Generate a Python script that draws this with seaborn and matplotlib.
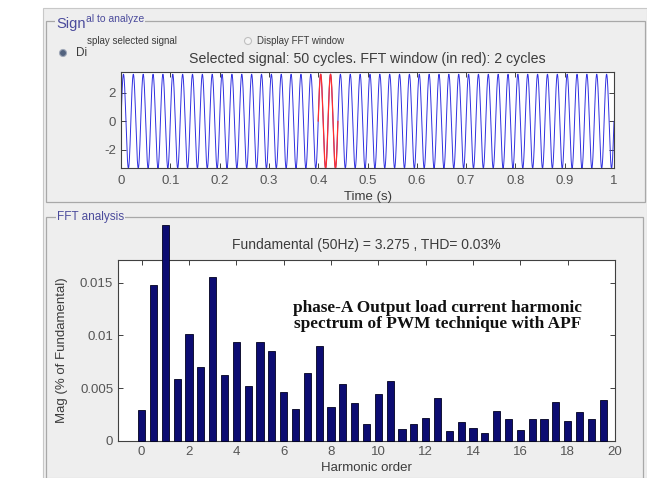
import numpy as np
import pandas as pd
import matplotlib
matplotlib.use("Agg")
import matplotlib.pyplot as plt
from matplotlib.patches import Rectangle, Ellipse
import seaborn as sns

# ---------------- data ----------------
harmonic_order = [0, 0.5, 1, 1.5, 2, 2.5, 3, 3.5, 4, 4.5, 5, 5.5, 6, 6.5, 7, 7.5,
                  8, 8.5, 9, 9.5, 10, 10.5, 11, 11.5, 12, 12.5, 13, 13.5, 14, 14.5,
                  15, 15.5, 16, 16.5, 17, 17.5, 18, 18.5, 19, 19.5]
mag_pct_fund = [0.0029, 0.0148, 0.0205, 0.0059, 0.0101, 0.0070, 0.0155, 0.0062,
                0.0094, 0.0052, 0.0094, 0.0085, 0.0046, 0.0030, 0.0064, 0.0090,
                0.0032, 0.0054, 0.0036, 0.0016, 0.0044, 0.0057, 0.0011, 0.0016,
                0.0022, 0.0041, 0.0009, 0.0018, 0.0012, 0.0007, 0.0028, 0.0021,
                0.0010, 0.0021, 0.0021, 0.0037, 0.0019, 0.0027, 0.0021, 0.0039]
fft_xticks = [0, 2, 4, 6, 8, 10, 12, 14, 16, 18, 20]
fft_yticks = [0, 0.005, 0.01, 0.015]
fft_ytick_labels = ["0", "0.005", "0.01", "0.015"]

# selected signal (as stated in the chart: 50 Hz fundamental, 3.275 peak, 1 s, 50 cycles)
fund_freq_hz = 50
fund_amp = 3.275
signal_duration_s = 1.0
fft_window_start_s = 0.40
fft_window_cycles = 2
time_xticks = [0, 0.1, 0.2, 0.3, 0.4, 0.5, 0.6, 0.7, 0.8, 0.9, 1]
time_xtick_labels = ["0", "0.1", "0.2", "0.3", "0.4", "0.5", "0.6", "0.7", "0.8", "0.9", "1"]
time_yticks = [-2, 0, 2]

t = np.linspace(0, signal_duration_s, 20001)
sig = fund_amp * np.sin(2 * np.pi * fund_freq_hz * t)
win_end = fft_window_start_s + fft_window_cycles / fund_freq_hz
in_win = (t >= fft_window_start_s) & (t <= win_end)
sig_df = pd.DataFrame({"t": t, "v": sig})
win_df = sig_df[in_win]
fft_df = pd.DataFrame({"order": harmonic_order, "mag": mag_pct_fund})

# ---------------- style ----------------
sns.set_style("white")
plt.rcParams["font.family"] = ["Liberation Sans", "DejaVu Sans"]
plt.rcParams["axes.unicode_minus"] = False

W, H = 647, 478
fig = plt.figure(figsize=(W / 100, H / 100), dpi=100)
fig.patch.set_facecolor("white")

def fx(x):
    return x / W

def fy(y):
    return 1 - y / H

GREY = "#eeeeee"
TXT = "#3c3c3c"
PANEL_TXT = "#4b4b9c"

# GUI background and panel frames
fig.patches.append(Rectangle((fx(43), 0), fx(647) - fx(43), fy(8), transform=fig.transFigure,
                             facecolor=GREY, edgecolor="#c8c8c8", lw=0.8, zorder=-5))
fig.patches.append(Rectangle((fx(46), fy(202)), fx(645) - fx(46), fy(21) - fy(202),
                             transform=fig.transFigure, facecolor="none",
                             edgecolor="#a8a8a8", lw=0.9, zorder=-4))
fig.patches.append(Rectangle((fx(46), fy(482)), fx(643) - fx(46), fy(217) - fy(482),
                             transform=fig.transFigure, facecolor="none",
                             edgecolor="#a8a8a8", lw=0.9, zorder=-4))

# panel labels
fig.text(fx(56), fy(24), "Sign", color=PANEL_TXT, fontsize=10.5, va="center", ha="left",
         bbox=dict(facecolor=GREY, edgecolor="none", pad=0.5), zorder=-3)
fig.text(fx(86), fy(19), "al to analyze", color=PANEL_TXT, fontsize=7.5, va="center", ha="left",
         bbox=dict(facecolor=GREY, edgecolor="none", pad=0.5), zorder=-3)
fig.text(fx(57), fy(217), "FFT analysis", color=PANEL_TXT, fontsize=8.5, va="center", ha="left",
         bbox=dict(facecolor=GREY, edgecolor="none", pad=0.8), zorder=-3)
fig.text(fx(87), fy(41), "splay selected signal", color=TXT, fontsize=7, va="center", ha="left")
fig.text(fx(257), fy(41), "Display FFT window", color=TXT, fontsize=7, va="center", ha="left")
fig.text(fx(76), fy(53), "Di", color=TXT, fontsize=8.5, va="center", ha="left")
fig.patches.append(Ellipse((fx(248), fy(41)), 7 / W, 7 / H, transform=fig.transFigure,
                           facecolor="#f4f4f4", edgecolor="#c0c0c0", lw=0.8))
fig.patches.append(Ellipse((fx(63), fy(53)), 7 / W, 7 / H, transform=fig.transFigure,
                           facecolor="#52627e", edgecolor="#a0a8b8", lw=0.8))

# ---------------- top axes: signal ----------------
ax1 = fig.add_axes([fx(121), fy(168.3), fx(614) - fx(121), fy(72.3) - fy(168.3)])
ax1.set_facecolor("white")
sns.lineplot(data=sig_df, x="t", y="v", ax=ax1, color="#3030e0", lw=0.7,
             estimator=None, sort=False)
sns.lineplot(data=win_df, x="t", y="v", ax=ax1, color="#ff3030", lw=0.9,
             estimator=None, sort=False)
ax1.set_xlim(0, signal_duration_s)
ax1.set_ylim(-3.28, 3.41)
ax1.set_xticks(time_xticks)
ax1.set_xticklabels(time_xtick_labels)
ax1.set_yticks(time_yticks)
ax1.set_title("Selected signal: 50 cycles. FFT window (in red): 2 cycles",
              fontsize=10.2, color=TXT, pad=7)
ax1.set_xlabel("Time (s)", fontsize=9.5, color=TXT)
ax1.set_ylabel("")
ax1.xaxis.set_label_coords(0.5, -0.235)

# ---------------- bottom axes: FFT bars ----------------
ax2 = fig.add_axes([fx(118), fy(440.7), fx(615) - fx(118), fy(260) - fy(440.7)])
ax2.set_facecolor("white")
sns.barplot(data=fft_df, x="order", y="mag", native_scale=True, width=0.6,
            color="#0c0c72", saturation=1, edgecolor="#000020", linewidth=0.6,
            errorbar=None, ax=ax2)
for p in ax2.patches:
    p.set_clip_on(False)
    p.set_zorder(3)
ax2.set_xlim(-1, 20)
ax2.set_ylim(0, 0.01715)
ax2.set_xticks(fft_xticks)
ax2.set_xticklabels([str(v) for v in fft_xticks])
ax2.set_yticks(fft_yticks)
ax2.set_yticklabels(fft_ytick_labels)
ax2.set_title("Fundamental (50Hz) = 3.275 , THD= 0.03%", fontsize=10, color=TXT, pad=8)
ax2.set_xlabel("Harmonic order", fontsize=9.5, color=TXT)
ax2.set_ylabel("Mag (% of Fundamental)", fontsize=9.5, color=TXT)
ax2.xaxis.set_label_coords(0.5, -0.118)
ax2.yaxis.set_label_coords(-0.1, 0.5)
ax2.text(0.643, 0.688, "phase-A Output load current harmonic\nspectrum of PWM technique with APF",
         transform=ax2.transAxes, ha="center", va="center", fontsize=12.4,
         fontweight="bold", family=["Liberation Serif", "DejaVu Serif"], color="#111111",
         linespacing=1.0, zorder=5)

for ax in (ax1, ax2):
    for s in ax.spines.values():
        s.set_color("#404040")
        s.set_linewidth(0.8)
        s.set_visible(True)
    ax.tick_params(direction="in", length=3.5, width=0.7, color="#404040",
                   labelsize=9.5, labelcolor="#555555", top=True, right=True,
                   bottom=True, left=True, pad=3.5)
ax1.tick_params(axis="x", pad=5)

fig.savefig("out.png", dpi=100, facecolor=fig.get_facecolor())
